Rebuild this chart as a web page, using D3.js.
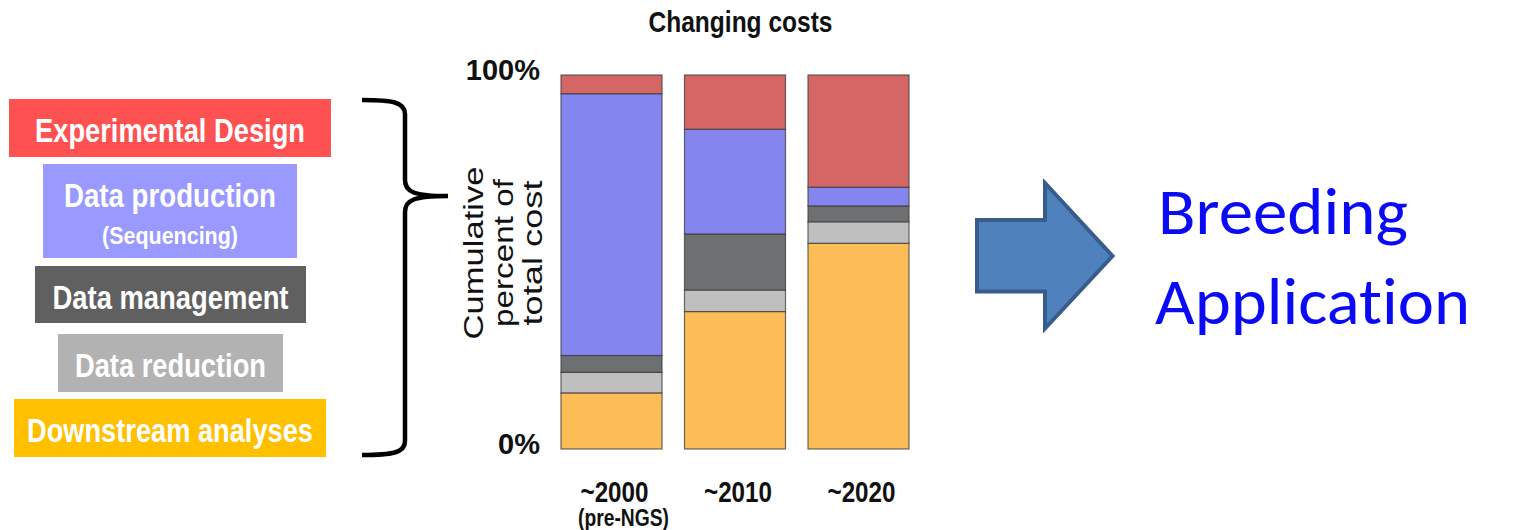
<!DOCTYPE html>
<html>
<head>
<meta charset="utf-8">
<script src="https://cdn.jsdelivr.net/npm/d3@7/dist/d3.min.js"></script>
<style>
  html, body { margin: 0; padding: 0; background: #ffffff; }
  svg { display: block; }
  text { font-variant-ligatures: none; font-feature-settings: "liga" 0, "dlig" 0; }
</style>
</head>
<body>
<svg id="chart" width="1523" height="530"></svg>
<script>
// ---- Data ------------------------------------------------------------
const categories = ["~2000", "~2010", "~2020"];
const categoryNotes = ["(pre-NGS)", "", ""];
const stageKeys = ["downstream", "reduction", "management", "production", "design"];

// Share of total cost (%) for each stage, per era
const downstream = [15, 36.75, 55];
const reduction  = [5.5, 5.75, 5.75];
const management = [4.5, 15, 4.25];
const production = [70, 28, 5];
const design     = [5, 14.5, 30];

const yTickValues = [0, 100];
const yTickLabels = ["0%", "100%"];
const yTitleLines = ["Cumulative", "percent of", "total cost"];
const chartTitle = "Changing costs";

// Legend entries (top to bottom)
const legendLabels = ["Experimental Design", "Data production", "Data management", "Data reduction", "Downstream analyses"];
const legendNotes  = ["", "(Sequencing)", "", "", ""];
const legendKeys   = ["design", "production", "management", "reduction", "downstream"];
const outcomeLines = ["Breeding", "Application"];

// ---- Styles -----------------------------------------------------------
const barColor = {
  design: "#d46666", production: "#8585f0", management: "#6e6f71",
  reduction: "#bfbfbf", downstream: "#fdbd56"
};
const legendColor = {
  design: "#fe5151", production: "#9999ff", management: "#606060",
  reduction: "#b2b2b2", downstream: "#ffc000"
};
const narrowBold = "'Liberation Sans Narrow', 'Arial Narrow', 'Liberation Sans', Arial, sans-serif";

// Legend box layout: [x0, y0, x1, y1, label baseline, note baseline, label length, note length]
const legendLayout = [
  [9, 99, 331, 157, 141.5, 0, 270, 0],
  [43, 164, 297, 258, 206.5, 243.5, 212, 136],
  [35, 266, 306, 323, 308.5, 0, 236, 0],
  [58, 334, 283, 392, 376.5, 0, 191, 0],
  [14, 399, 326, 457, 441.5, 0, 286, 0]
];

const svg = d3.select("#chart");

function fitText(sel, len) {
  if (len) sel.attr("textLength", len).attr("lengthAdjust", "spacingAndGlyphs");
  return sel;
}

// ---- Legend -----------------------------------------------------------
const legend = svg.append("g").attr("class", "legend");
legendLabels.forEach((label, i) => {
  const [x0, y0, x1, y1, base, noteBase, len, noteLen] = legendLayout[i];
  const cx = (x0 + x1) / 2;
  legend.append("rect")
    .attr("x", x0).attr("y", y0).attr("width", x1 - x0).attr("height", y1 - y0)
    .attr("fill", legendColor[legendKeys[i]]);
  fitText(legend.append("text")
    .attr("x", cx).attr("y", base)
    .attr("text-anchor", "middle")
    .attr("font-family", narrowBold).attr("font-weight", "bold")
    .attr("font-size", 33).attr("fill", "#ffffff")
    .text(label), len);
  if (legendNotes[i]) {
    fitText(legend.append("text")
      .attr("x", cx).attr("y", noteBase)
      .attr("text-anchor", "middle")
      .attr("font-family", narrowBold).attr("font-weight", "bold")
      .attr("font-size", 24).attr("fill", "#ffffff")
      .text(legendNotes[i]), noteLen);
  }
});

// Brace grouping the legend
svg.append("path")
  .attr("d", "M362,100 C392,100 405,102 405,114 L405,180 C405,192 414,196 448,196 " +
             "C414,196 405,200 405,212 L405,441 C405,453 392,455 362,455")
  .attr("fill", "none").attr("stroke", "#000").attr("stroke-width", 4.5)
  .attr("stroke-linejoin", "miter");

// ---- Stacked bar chart -----------------------------------------------
const rows = categories.map((c, i) => ({
  category: c,
  downstream: downstream[i], reduction: reduction[i], management: management[i],
  production: production[i], design: design[i]
}));

const x = d3.scaleBand().domain(categories).range([549.75, 920.25])
  .paddingInner(0.182).paddingOuter(0.091);
const y = d3.scaleLinear().domain([0, 100]).range([449, 75]);

const stacked = d3.stack().keys(stageKeys)(rows);

svg.append("g").attr("class", "bars")
  .selectAll("g").data(stacked).join("g")
    .attr("fill", d => barColor[d.key])
  .selectAll("rect").data(d => d).join("rect")
    .attr("x", d => x(d.data.category))
    .attr("y", d => y(d[1]))
    .attr("width", x.bandwidth())
    .attr("height", d => y(d[0]) - y(d[1]))
    .attr("stroke", "#3a3a3a").attr("stroke-opacity", 0.75).attr("stroke-width", 1.2);

// Y tick labels
svg.append("g").attr("class", "y-ticks")
  .selectAll("text").data(yTickValues).join("text")
    .attr("x", 540).attr("y", d => y(d) + 5)
    .attr("text-anchor", "end")
    .attr("font-family", narrowBold).attr("font-weight", "bold")
    .attr("font-size", 29).attr("fill", "#111")
    .text((d, i) => yTickLabels[i]);

// Y axis title (three rotated lines)
const titleLen = [173, 148, 145];
const yTitle = svg.append("g").attr("transform", "translate(0,253) rotate(-90)");
yTitleLines.forEach((line, i) => {
  fitText(yTitle.append("text")
    .attr("x", 0).attr("y", [483, 513, 541.5][i])
    .attr("text-anchor", "middle")
    .attr("font-family", "'Liberation Sans', Arial, sans-serif")
    .attr("font-size", 27).attr("fill", "#111")
    .text(line), titleLen[i]);
});

// X labels
const xLabels = svg.append("g").attr("class", "x-labels");
xLabels.selectAll("text.year").data(categories).join("text")
  .attr("class", "year")
  .attr("x", d => x(d) + x.bandwidth() / 2 + 3).attr("y", 501.5)
  .attr("text-anchor", "middle")
  .attr("font-family", narrowBold).attr("font-weight", "bold")
  .attr("font-size", 30).attr("fill", "#111")
  .attr("textLength", 68).attr("lengthAdjust", "spacingAndGlyphs")
  .text(d => d);
xLabels.selectAll("text.note").data(categories.filter((c, i) => categoryNotes[i])).join("text")
  .attr("class", "note")
  .attr("x", d => x(d) + x.bandwidth() / 2 + 12).attr("y", 525.5)
  .attr("text-anchor", "middle")
  .attr("font-family", narrowBold).attr("font-weight", "bold")
  .attr("font-size", 23).attr("fill", "#111")
  .attr("textLength", 91).attr("lengthAdjust", "spacingAndGlyphs")
  .text(d => categoryNotes[categories.indexOf(d)]);

// Chart title
fitText(svg.append("text")
  .attr("x", 740.5).attr("y", 32)
  .attr("text-anchor", "middle")
  .attr("font-family", narrowBold).attr("font-weight", "bold")
  .attr("font-size", 30).attr("fill", "#111")
  .text(chartTitle), 184);

// ---- Arrow and outcome text ---------------------------------------------
const arrowPts = [[977, 220], [1045, 220], [1045, 183], [1112.5, 256], [1045, 328.5], [1045, 291.5], [977, 291.5]];
svg.append("path")
  .attr("d", d3.line()(arrowPts) + "Z")
  .attr("fill", "#4f81bd").attr("stroke", "#385d8a").attr("stroke-width", 4)
  .attr("stroke-linejoin", "miter");

const outcome = svg.append("g").attr("class", "outcome");
[[1158, 234, 250], [1155, 324, 315]].forEach(([tx, ty, len], i) => {
  fitText(outcome.append("text")
    .attr("x", tx).attr("y", ty)
    .attr("font-family", "Carlito, Lato, 'Open Sans', sans-serif")
    .attr("font-size", 65).attr("fill", "#0a0af5")
    .text(outcomeLines[i]), len);
});
</script>
</body>
</html>
